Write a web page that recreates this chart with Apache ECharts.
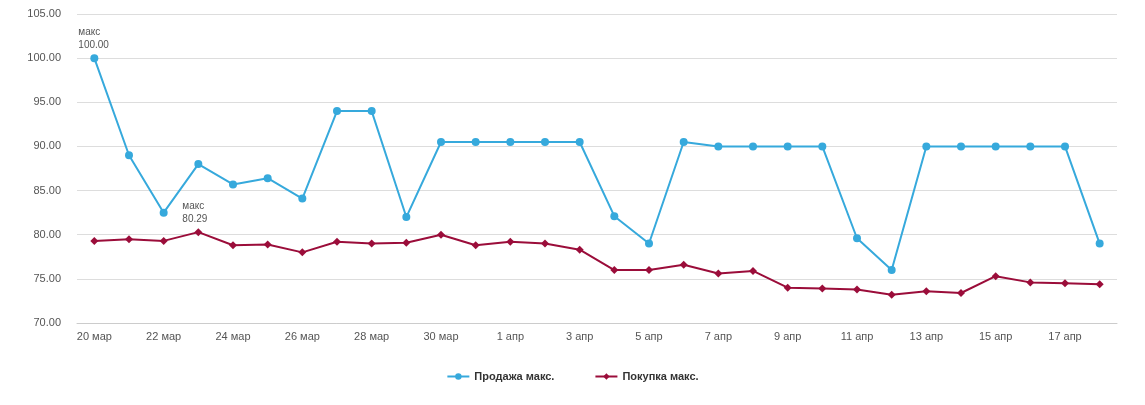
<!DOCTYPE html>
<html><head><meta charset="utf-8">
<script src="https://cdn.jsdelivr.net/npm/echarts@6/dist/echarts.min.js"></script>
<style>html,body{margin:0;padding:0;background:#fff}#c{width:1145px;height:405px}</style>
</head><body><div id="c"></div>
<script>
const categories = ['20 мар','21 мар','22 мар','23 мар','24 мар','25 мар','26 мар','27 мар','28 мар','29 мар','30 мар','31 мар','1 апр','2 апр','3 апр','4 апр','5 апр','6 апр','7 апр','8 апр','9 апр','10 апр','11 апр','12 апр','13 апр','14 апр','15 апр','16 апр','17 апр','18 апр'];
const sellMax = [100,89,82.5,88,85.7,86.4,84.1,94,94,82,90.5,90.5,90.5,90.5,90.5,82.1,79,90.5,90,90,90,90,79.6,76,90,90,90,90,90,79];
const buyMax = [79.3,79.5,79.3,80.29,78.8,78.9,78.0,79.2,79.0,79.1,80.0,78.8,79.2,79.0,78.3,76.0,76.0,76.6,75.6,75.9,74.0,73.9,73.8,73.2,73.6,73.4,75.3,74.6,74.5,74.4];
const chart = echarts.init(document.getElementById('c'));
function mp(){
  return {symbol:'circle',symbolSize:1,itemStyle:{color:'rgba(0,0,0,0)'},
    label:{show:true,position:'top',distance:6,color:'#555',fontSize:10,lineHeight:13,align:'left',offset:[-16,0],
      formatter:p=>'макс\n'+p.value.toFixed(2)},
    data:[{type:'max',name:'max'}]};
}
chart.setOption({
  animation:false,
  grid:{left:77,right:28,top:14,bottom:82},
  legend:{bottom:18,itemGap:40,itemWidth:22,itemHeight:8,textStyle:{color:'#333',fontWeight:'bold',fontSize:11},
    data:['Продажа макс.','Покупка макс.']},
  xAxis:{type:'category',data:categories,boundaryGap:true,
    axisLine:{lineStyle:{color:'#ccc'}},axisTick:{show:false},
    axisLabel:{color:'#555',fontSize:11,interval:1}},
  yAxis:{type:'value',min:70,max:105,interval:5,
    axisLabel:{color:'#555',fontSize:11,margin:16,formatter:v=>v.toFixed(2)},
    splitLine:{lineStyle:{color:'#ddd'}}},
  series:[
    {name:'Продажа макс.',type:'line',data:sellMax,symbol:'circle',symbolSize:8,
      itemStyle:{color:'#36a9dc'},lineStyle:{width:2},markPoint:mp()},
    {name:'Покупка макс.',type:'line',data:buyMax,symbol:'diamond',symbolSize:8,
      itemStyle:{color:'#9b0d3a'},lineStyle:{width:2},markPoint:mp()}
  ]
});
</script></body></html>
